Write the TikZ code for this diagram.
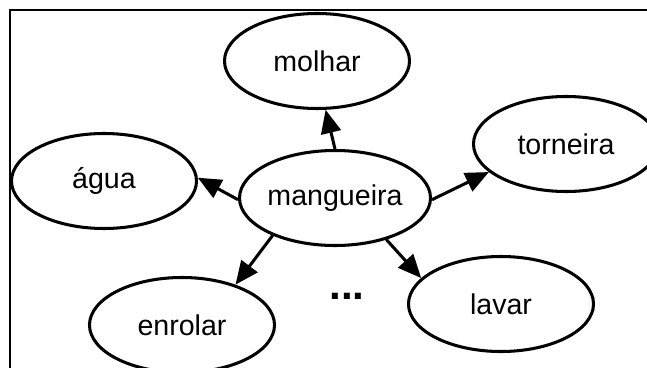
\documentclass[tikz,border=0pt]{standalone}
\usepackage{fontspec}
\setmainfont{Liberation Sans}
\usetikzlibrary{shapes.geometric}
\usetikzlibrary{arrows.meta}

\begin{document}
\begin{tikzpicture}[x=0.03cm,y=-0.03cm,
    idea/.style={ellipse,draw,line width=2.6pt,minimum width=5.55cm,minimum height=2.85cm,inner sep=0pt,font=\fontsize{24.4}{29}\selectfont},
    link/.style={-{Triangle[length=7mm,width=6mm]},line width=2.6pt}]
          \useasboundingbox (0,0) rectangle (647,368);
          \clip (0,0) rectangle (647,368);
          \draw[line width=1.4pt] (10,10) rectangle (700,420);

          \node[idea] (mangueira) at (335,198) {mangueira};
          \node[idea] (molhar) at (317,61) {molhar};
          \node[idea] (torneira) at (566,144) {torneira};
          \node[idea] (agua) at (104,181) {água};
          \node[idea] (enrolar) at (182,325) {enrolar};
          \node[idea] (lavar) at (501,304) {lavar};
          \node[font=\fontsize{36}{36}\selectfont\bfseries] (etc) at (347,296) {...};

          \draw[link] (mangueira.90) -- (molhar.280);
          \draw[link] (mangueira.359) -- (torneira.200);
          \draw[link] (mangueira.181) -- (agua.2);
          \draw[link] (mangueira.211) -- (enrolar.37);
          \draw[link] (mangueira.321) -- (lavar.162);
        \end{tikzpicture}
\end{document}
